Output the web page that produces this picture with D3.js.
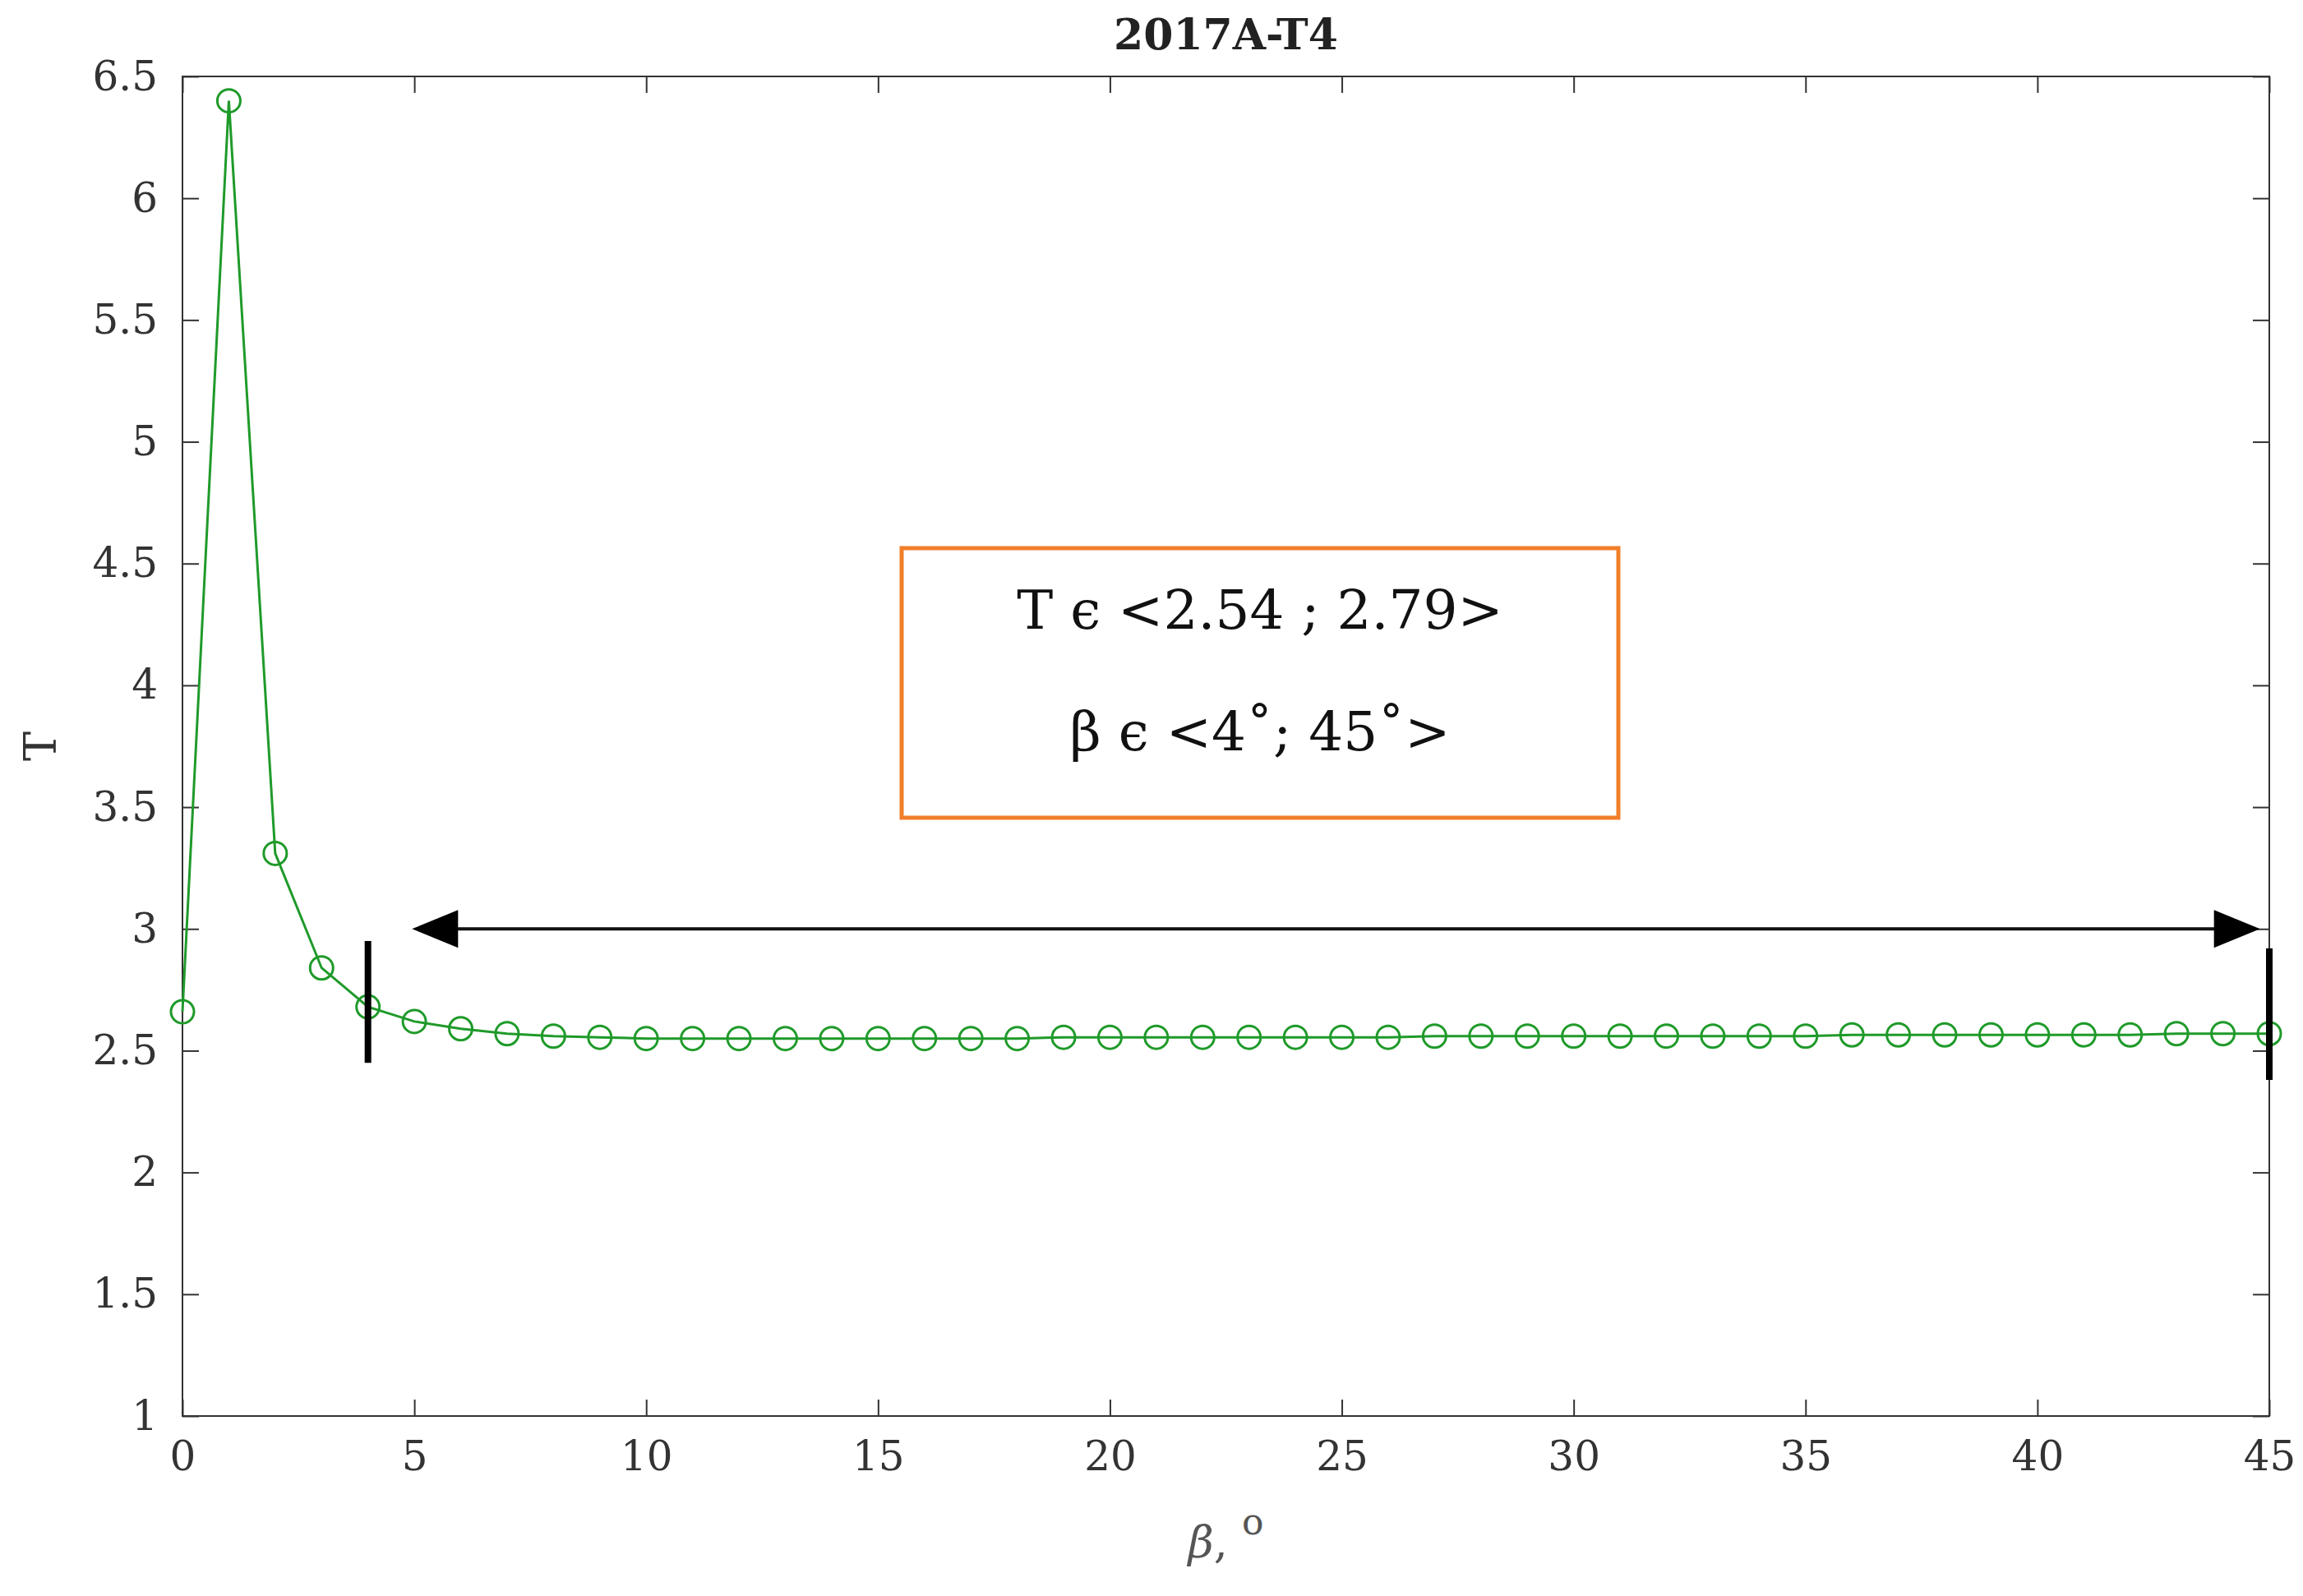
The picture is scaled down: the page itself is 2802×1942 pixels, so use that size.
<!DOCTYPE html>
<html lang="en">
<head>
  <meta charset="utf-8">
  <title>2017A-T4</title>
  <script src="https://d3js.org/d3.v7.min.js"></script>
  <style>
    body { margin: 0; background: #fff; }
    text { font-family: "DejaVu Serif", "Liberation Serif", serif; }
  </style>
</head>
<body>
<svg id="chart" width="2802" height="1942"></svg>
<script>
// data
var beta = d3.range(0, 46);
var tVals = [2.66, 6.40, 3.31, 2.84, 2.68, 2.62, 2.59, 2.57, 2.56, 2.555,
  2.55, 2.55, 2.55, 2.55, 2.55, 2.55, 2.55, 2.55, 2.55, 2.555,
  2.555, 2.555, 2.555, 2.555, 2.555, 2.555, 2.555, 2.56, 2.56, 2.56,
  2.56, 2.56, 2.56, 2.56, 2.56, 2.56, 2.565, 2.565, 2.565, 2.565,
  2.565, 2.565, 2.565, 2.57, 2.57, 2.57];
var xTicks = [0, 5, 10, 15, 20, 25, 30, 35, 40, 45];
var yTicks = [1, 1.5, 2, 2.5, 3, 3.5, 4, 4.5, 5, 5.5, 6, 6.5];
var boxLines = ["T \u03F5 <2.54 ; 2.79>", "\u03B2 \u03F5 <4\u02DA; 45\u02DA>"];
var rangeArrow = [4.95, 44.8, 3];
var markers = [[4, 2.45, 2.95], [45, 2.38, 2.92]];

var svg = d3.select("#chart");
var L = 222, R = 2761, T = 93, B = 1723;
var x = d3.scaleLinear().domain([0, 45]).range([L, R]);
var y = d3.scaleLinear().domain([1, 6.5]).range([B, T]);
var green = "#1f9a2a";

svg.append("rect").attr("x", L).attr("y", T).attr("width", R - L).attr("height", B - T)
  .attr("fill", "none").attr("stroke", "#333").attr("stroke-width", 2);

function styleAxis(g) {
  g.select(".domain").remove();
  g.selectAll("line").attr("stroke", "#333").attr("stroke-width", 2);
  g.selectAll("text").attr("font-size", 50).attr("fill", "#333");
}
svg.append("g").attr("transform", "translate(0," + B + ")")
  .call(d3.axisBottom(x).tickValues(xTicks).tickSize(-20).tickPadding(30))
  .call(styleAxis);
svg.append("g").attr("transform", "translate(0," + T + ")")
  .call(d3.axisTop(x).tickValues(xTicks).tickSize(-20).tickFormat(""))
  .call(styleAxis);
svg.append("g").attr("transform", "translate(" + L + ",0)")
  .call(d3.axisLeft(y).tickValues(yTicks).tickSize(-20).tickPadding(30).tickFormat(d3.format("")))
  .call(styleAxis);
svg.append("g").attr("transform", "translate(" + R + ",0)")
  .call(d3.axisRight(y).tickValues(yTicks).tickSize(-20).tickFormat(""))
  .call(styleAxis);

// title and axis labels
svg.append("text").attr("x", (L + R) / 2).attr("y", 60).attr("text-anchor", "middle")
  .attr("font-size", 52).attr("font-weight", "bold").attr("fill", "#222").text("2017A-T4");
svg.append("text").attr("transform", "translate(68," + (T + B) / 2 + ") rotate(-90)")
  .attr("text-anchor", "middle").attr("font-size", 54).attr("fill", "#333").text("T");
var xl = svg.append("text").attr("x", (L + R) / 2).attr("y", 1895).attr("text-anchor", "middle")
  .attr("font-size", 54).attr("fill", "#555");
xl.append("tspan").attr("font-style", "italic").text("\u03B2");
xl.append("tspan").text(", ");
xl.append("tspan").attr("dy", -28).attr("font-size", 44).text("o");

// series
var pts = beta.map(function(b, i) { return [b, tVals[i]]; });
svg.append("path").datum(pts)
  .attr("d", d3.line().x(function(d) { return x(d[0]); }).y(function(d) { return y(d[1]); }))
  .attr("fill", "none").attr("stroke", green).attr("stroke-width", 3);
svg.selectAll("circle.pt").data(pts).enter().append("circle").attr("class", "pt")
  .attr("cx", function(d) { return x(d[0]); }).attr("cy", function(d) { return y(d[1]); })
  .attr("r", 14).attr("fill", "none").attr("stroke", green).attr("stroke-width", 3);

// range arrow
var ax0 = x(rangeArrow[0]), ax1 = x(rangeArrow[1]), ay = y(rangeArrow[2]);
svg.append("line").attr("x1", ax0 + 50).attr("x2", ax1 - 50).attr("y1", ay).attr("y2", ay)
  .attr("stroke", "#111").attr("stroke-width", 4);
svg.append("path").attr("d", "M" + ax0 + "," + ay + "l56,-23v46z").attr("fill", "#000");
svg.append("path").attr("d", "M" + ax1 + "," + ay + "l-56,-23v46z").attr("fill", "#000");
markers.forEach(function(m) {
  svg.append("line").attr("x1", x(m[0])).attr("x2", x(m[0])).attr("y1", y(m[1])).attr("y2", y(m[2]))
    .attr("stroke", "#000").attr("stroke-width", 8);
});

// annotation box
svg.append("rect").attr("x", 1097).attr("y", 667).attr("width", 872).attr("height", 328)
  .attr("fill", "#fff").attr("stroke", "#f07f2a").attr("stroke-width", 5);
svg.selectAll("text.box").data(boxLines).enter().append("text").attr("class", "box")
  .attr("x", 1533).attr("y", function(d, i) { return 765 + i * 148; })
  .attr("text-anchor", "middle").attr("font-size", 66).attr("fill", "#111").text(function(d) { return d; });
</script>
</body>
</html>
